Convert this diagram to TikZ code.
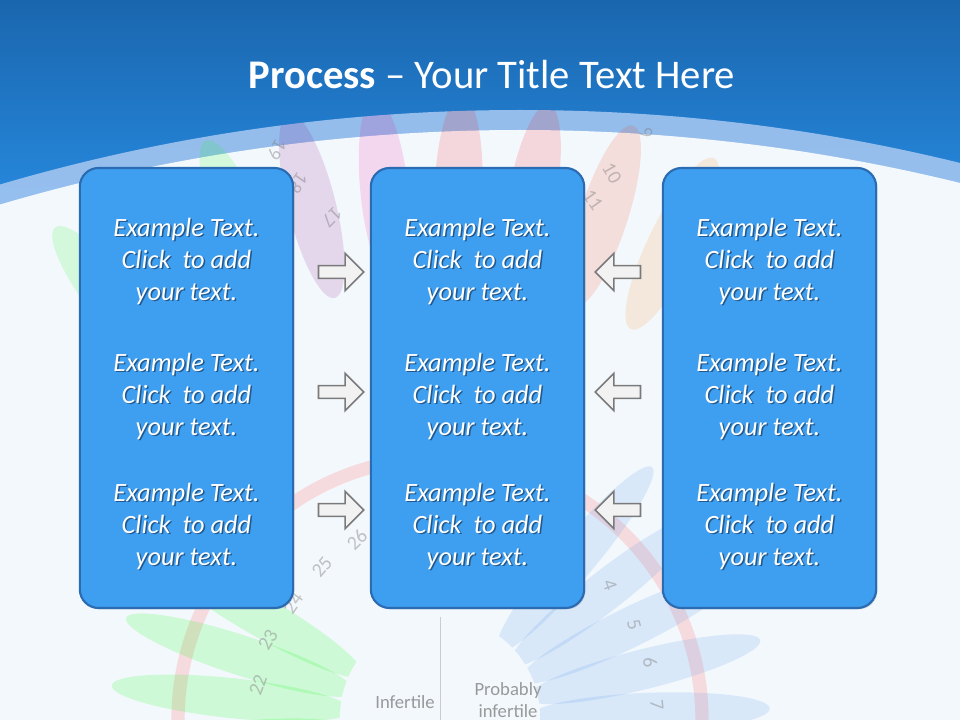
\documentclass[tikz,border=0pt]{standalone}
\usepackage{fontspec}
\setmainfont{Carlito}
\usetikzlibrary{shapes.arrows,shadows}
\definecolor{hdtop}{HTML}{1A66AE}
\definecolor{hdbot}{HTML}{2A92EA}
\definecolor{bg}{HTML}{F3F8FD}
\definecolor{band}{HTML}{A9C9F2}
\definecolor{boxfill}{HTML}{3E9EF0}
\definecolor{boxline}{HTML}{2A6BB2}
\definecolor{arrline}{HTML}{7A7A7A}
\definecolor{arrfill}{HTML}{F2F2F2}
\definecolor{pblue}{HTML}{4A90E8}
\tikzset{
  card/.style={draw=boxline,line width=1.6pt,fill=boxfill,rounded corners=14pt,minimum width=160pt,minimum height=330pt,inner sep=0pt},
  txt/.style={text=white,font=\fontsize{19.8}{24}\selectfont\itshape,align=center},
  shd/.style={text=black!45!boxline,font=\fontsize{19.8}{24}\selectfont\itshape,align=center,opacity=0.7},
  rarr/.style={single arrow,draw=arrline,fill=arrfill,line width=1.2pt,minimum height=34pt,minimum width=28pt,single arrow head extend=5pt,inner sep=2pt},
  larr/.style={rarr,shape border rotate=180},
  petal/.style={opacity=0.15},
  num/.style={text=gray,opacity=0.45,inner sep=0pt,font=\fontsize{15}{15}\selectfont}
}
\begin{document}
\begin{tikzpicture}[x=0.75pt,y=-0.75pt]
\useasboundingbox (0,0) rectangle (960,720);
% header
\shade[top color=hdtop,bottom color=hdbot] (0,0) rectangle (960,260);
\fill[band,opacity=0.85] (520,1950) circle (1840);
\fill[bg] (520,1970) circle (1840);
% watermark
\begin{scope}
\clip (520,1950) circle (1840);
\draw[red!40,opacity=0.3,line width=10pt] (440,720) circle (262);
\foreach \a/\c in {232/green,240/green,248/green,256/violet,264/magenta,272/red,280/red,288/red!60!orange,296/orange,304/green!70!black,312/green}{
  \fill[\c,opacity=0.13,rotate around={-\a:(440,720)}] (440,720) ++(530,0) ellipse (95 and 24);
}
\end{scope}
\foreach \a/\c in {150/green,162/green,174/green,186/green,198/green}{
  \fill[\c,petal,rotate around={\a:(440,720)}] (440,720) ++(210,0) ellipse (120 and 20);
}
\foreach \a in {-10,2,14,26,38,50}{
  \fill[pblue,petal,rotate around={\a:(440,720)}] (440,720) ++(210,0) ellipse (120 and 20);
}
\fill[bg] (440,717) circle (100);
\draw[gray!40] (440,617) -- (440,720);
\node[num,rotate=70] (n22) at (258,685) {22};
\node[num,rotate=60] (n23) at (268,640) {23};
\node[num,rotate=55] (n24) at (293,603) {24};
\node[num,rotate=50] (n25) at (322,567) {25};
\node[num,rotate=45] (n26) at (357,540) {26};
\node[num,rotate=-70] (n4) at (610,585) {4};
\node[num,rotate=-75] (n5) at (634,625) {5};
\node[num,rotate=-80] (n6) at (650,662) {6};
\node[num,rotate=-85] (n7) at (657,705) {7};
\node[num,rotate=-120] (n19) at (277,150) {19};
\node[num,rotate=-125] (n18) at (298,183) {18};
\node[num,rotate=-135] (n17) at (332,217) {17};
\node[num,rotate=-70] (n9) at (646,133) {9};
\node[num,rotate=-60] (n10) at (612,173) {10};
\node[num,rotate=-55] (n11) at (593,200) {11};
\node[text=gray!80,font=\fontsize{14}{14}\selectfont] (inf) at (405,702) {Infertile};
\node[text=gray!80,font=\fontsize{14}{16}\selectfont,align=center] (pinf) at (508,700) {Probably\\infertile};
% title
\node[text=white,font=\fontsize{30.5}{32}\selectfont] (title) at (492,75) {\textbf{Process} -- Your Title Text Here};
% cards
\foreach \n/\x in {L/186.5,M/477.5,R/769.5}{
  \node[card,drop shadow={opacity=0.25,shadow xshift=1pt,shadow yshift=-1pt}] (\n) at (\x,388) {};
  \foreach \k/\y in {1/261,2/396,3/526}{
    \node[shd] at (\x+1.5,\y+1.5) {Example Text.\\Click\ \ to add\\your text.};
    \node[txt] (\n\k) at (\x,\y) {Example Text.\\Click\ \ to add\\your text.};
  }
}
% arrows
\foreach \k/\y in {1/272,2/392,3/510}{
  \node[rarr] (ra\k) at (338,\y) {};
  \node[larr] (la\k) at (621,\y) {};
}
\end{tikzpicture}
\end{document}
